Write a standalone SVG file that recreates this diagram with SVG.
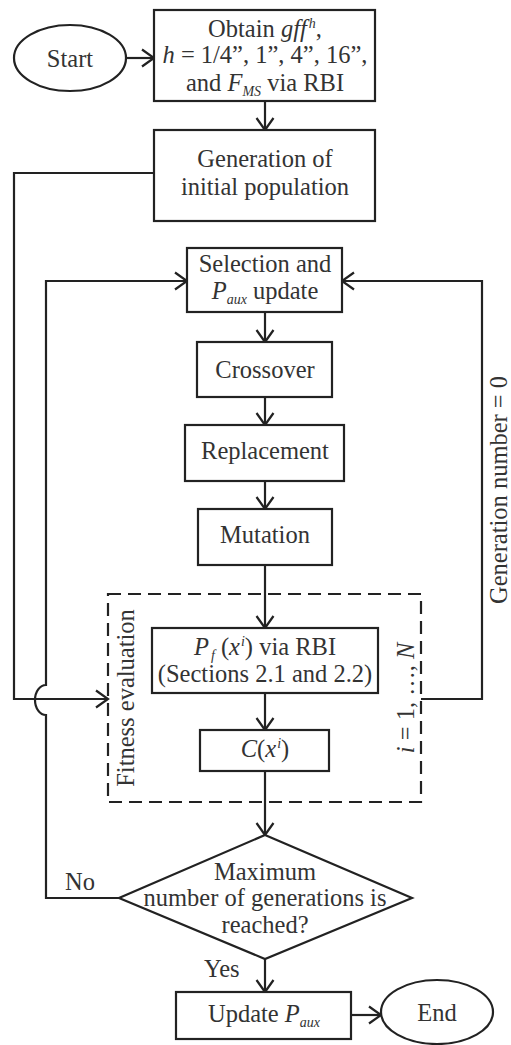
<svg xmlns="http://www.w3.org/2000/svg" width="511" height="1045" viewBox="0 0 511 1045">
  <style>
    .box { fill: #fff; stroke: #222; stroke-width: 2.2; }
    .ln { fill: none; stroke: #222; stroke-width: 2.2; }
    .arr { marker-end: url(#head); }
    .dash { fill: none; stroke: #222; stroke-width: 2.2; stroke-dasharray: 13 7; }
    text { font-family: "Liberation Serif", Tinos, "DejaVu Serif", serif; font-size: 24.5px; fill: #333; }
    .t { text-anchor: middle; }
    .i { font-style: italic; }
    .s { font-style: italic; font-size: 14px; }
  </style>
  <defs>
    <marker id="head" markerUnits="userSpaceOnUse" viewBox="-14 -10 16 20" markerWidth="16" markerHeight="20" refX="0" refY="0" orient="auto">
      <path d="M-12,-8.5 L0,0 L-12,8.5" fill="none" stroke="#222" stroke-width="2.2"/>
    </marker>
  </defs>

  <!-- connectors -->
  <g id="connectors">
    <path class="ln arr" d="M126,58 L154,58"/>
    <path class="ln arr" d="M265,101 L265,130"/>
    <path class="ln arr" d="M154,173 L14,173 L14,699 L108,699"/>
    <path class="ln arr" d="M265,312 L265,342"/>
    <path class="ln arr" d="M265,397 L265,425"/>
    <path class="ln arr" d="M265,481 L265,509"/>
    <path class="ln arr" d="M265,565 L265,628"/>
    <path class="ln arr" d="M265,693 L265,730"/>
    <path class="ln arr" d="M265,771 L265,835"/>
    <path class="ln arr" d="M421,699 L482,699 L482,281 L342,281"/>
    <path class="ln arr" d="M119,898 L46,898 L46,715 A11,15 0 0 1 46,685 L46,281 L187,281"/>
    <path class="ln arr" d="M265,959 L265,992"/>
    <path class="ln arr" d="M351,1015 L381,1015"/>
  </g>

  <!-- fitness evaluation loop frame -->
  <g id="fitness-loop">
    <rect class="dash" x="108" y="594" width="313" height="208"/>
    <text class="t" transform="translate(134,698) rotate(-90)">Fitness evaluation</text>
    <text class="t" transform="translate(414,698) rotate(-90)"><tspan class="i">i</tspan> = 1, …, <tspan class="i">N</tspan></text>
  </g>

  <g id="loop-label">
    <text class="t" transform="translate(507,490) rotate(-90)">Generation number = 0</text>
  </g>

  <g id="start">
    <ellipse class="box" cx="70" cy="58" rx="56" ry="33"/>
    <text class="t" x="70" y="67">Start</text>
  </g>

  <g id="obtain">
    <rect class="box" x="154" y="10" width="221" height="91"/>
    <text class="t" x="265" y="37">Obtain <tspan class="i">gff</tspan><tspan class="s" dx="2" dy="-9">h</tspan><tspan dy="9">,</tspan></text>
    <text class="t" x="265" y="63"><tspan class="i">h</tspan> = 1/4”, 1”, 4”, 16”,</text>
    <text class="t" x="265" y="91">and <tspan class="i">F</tspan><tspan class="s" dy="5">MS</tspan><tspan dy="-5"> via RBI</tspan></text>
  </g>

  <g id="init-pop">
    <rect class="box" x="154" y="130" width="221" height="91"/>
    <text class="t" x="265" y="167">Generation of</text>
    <text class="t" x="265" y="195">initial population</text>
  </g>

  <g id="selection">
    <rect class="box" x="187" y="248" width="155" height="64"/>
    <text class="t" x="265" y="272">Selection and</text>
    <text class="t" x="265" y="299"><tspan class="i">P</tspan><tspan class="s" dy="5">aux</tspan><tspan dy="-5"> update</tspan></text>
  </g>

  <g id="crossover">
    <rect class="box" x="197" y="342" width="135" height="55"/>
    <text class="t" x="265" y="378">Crossover</text>
  </g>

  <g id="replacement">
    <rect class="box" x="185" y="425" width="159" height="56"/>
    <text class="t" x="265" y="459">Replacement</text>
  </g>

  <g id="mutation">
    <rect class="box" x="198" y="509" width="134" height="56"/>
    <text class="t" x="265" y="543">Mutation</text>
  </g>

  <g id="pf">
    <rect class="box" x="152" y="628" width="226" height="65"/>
    <text class="t" x="265" y="655"><tspan class="i">P</tspan><tspan class="s" dx="2" dy="5">f</tspan><tspan dy="-5"> (</tspan><tspan class="i">x</tspan><tspan class="s" dx="1" dy="-9">i</tspan><tspan dy="9">) via RBI</tspan></text>
    <text class="t" x="265" y="682">(Sections 2.1 and 2.2)</text>
  </g>

  <g id="cost">
    <rect class="box" x="200" y="730" width="129" height="41"/>
    <text class="t" x="265" y="757"><tspan class="i">C</tspan>(<tspan class="i">x</tspan><tspan class="s" dx="1" dy="-9">i</tspan><tspan dy="9">)</tspan></text>
  </g>

  <g id="decision">
    <path class="box" d="M265,835 L412,898 L265,959 L119,898 Z"/>
    <text class="t" x="265" y="880">Maximum</text>
    <text class="t" x="265" y="906">number of generations is</text>
    <text class="t" x="265" y="933">reached?</text>
    <text x="65" y="890">No</text>
    <text x="204" y="977">Yes</text>
  </g>

  <g id="update">
    <rect class="box" x="176" y="992" width="175" height="47"/>
    <text class="t" x="264" y="1022">Update <tspan class="i">P</tspan><tspan class="s" dy="5">aux</tspan></text>
  </g>

  <g id="end">
    <ellipse class="box" cx="437" cy="1012" rx="56" ry="32"/>
    <text class="t" x="437" y="1021">End</text>
  </g>
</svg>
